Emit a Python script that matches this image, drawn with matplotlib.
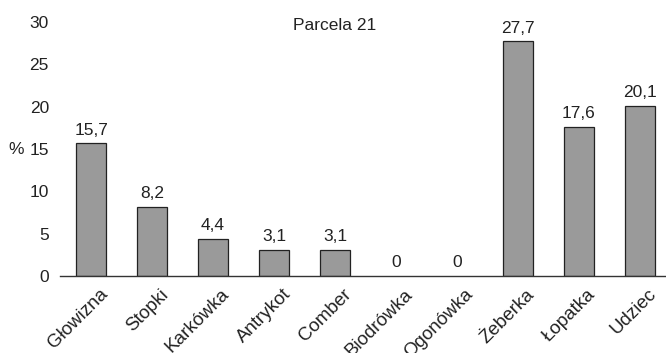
import numpy as np
import matplotlib.transforms as mtransforms
from matplotlib import pyplot as plt

plt.rcParams['font.family'] = ['Liberation Sans', 'DejaVu Sans']

kategorie = ['Głowizna', 'Stopki', 'Karkówka', 'Antrykot', 'Comber',
             'Biodrówka', 'Ogonówka', 'Żeberka', 'Łopatka', 'Udziec']
wartosci = [15.7, 8.2, 4.4, 3.1, 3.1, 0, 0, 27.7, 17.6, 20.1]
etykiety = ['15,7', '8,2', '4,4', '3,1', '3,1', '0', '0', '27,7', '17,6', '20,1']
yticks = [0, 5, 10, 15, 20, 25, 30]

fs = 12.5
fig = plt.figure(figsize=(6.66, 3.53), dpi=100)
ax = fig.add_axes([60 / 666, 1 - 276 / 353, 1 - 60 / 666, (276 - 22) / 353])

x = np.arange(len(kategorie))
bars = ax.bar(x, wartosci, width=0.49, color='#9a9a9a', edgecolor='#222222', linewidth=0.9)
for b, v in zip(bars, wartosci):
    if v == 0:
        b.set_visible(False)

for xi, v, t in zip(x, wartosci, etykiety):
    ax.annotate(t, (xi, v), xytext=(0, 4), textcoords='offset points',
                ha='center', va='bottom', fontsize=fs, color='#222222')

ax.set_xlim(-0.51, 9.43)
ax.set_ylim(0, 30)
ax.set_yticks(yticks)
ax.set_xticks(x)
ax.set_xticklabels(kategorie, rotation=45, ha='right', rotation_mode='anchor', fontsize=13.5)
ax.tick_params(axis='both', length=0, colors='#222222')
ax.tick_params(axis='y', pad=8, labelsize=fs)
ax.tick_params(axis='x', pad=7)

# etykiety osi x lekko w prawo
przesun = mtransforms.ScaledTranslation(8 / 100, 0, fig.dpi_scale_trans)
for lab in ax.get_xticklabels():
    lab.set_transform(lab.get_transform() + przesun)

for s in ['top', 'right', 'left']:
    ax.spines[s].set_visible(False)
ax.spines['bottom'].set_color('#333333')
ax.spines['bottom'].set_linewidth(1.0)

ax.set_ylabel('%', rotation=0, fontsize=fs, color='#222222', va='center')
ax.yaxis.set_label_coords(-0.072, 0.5)

ax.text(4, 29.6, 'Parcela 21', ha='center', va='center', fontsize=fs, color='#222222')

plt.savefig('out.png', dpi=100)
